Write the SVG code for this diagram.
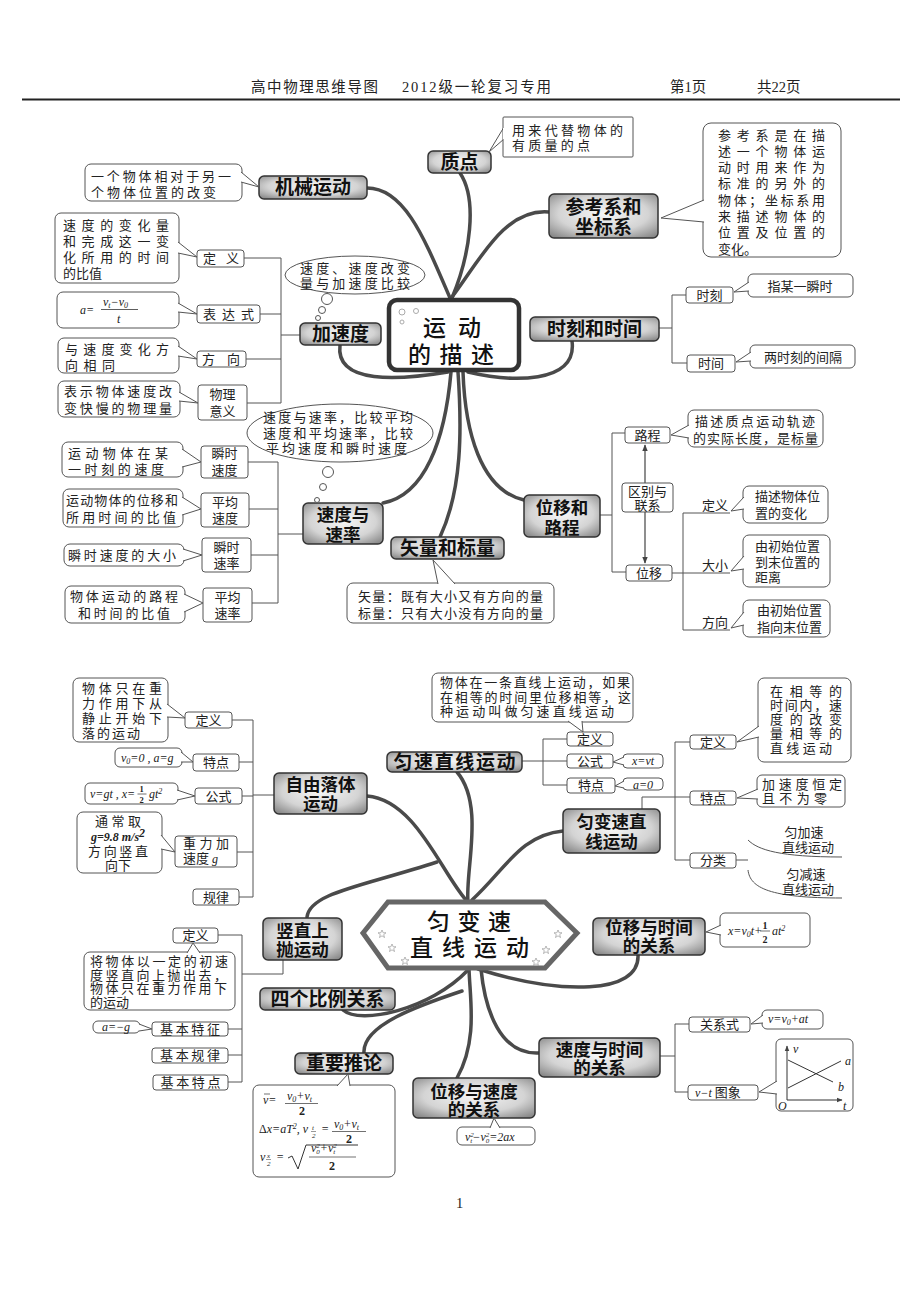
<svg xmlns="http://www.w3.org/2000/svg" xmlns:xlink="http://www.w3.org/1999/xlink" width="920" height="1300" viewBox="0 0 920 1300">
<defs>
<radialGradient id="ng" cx="0.5" cy="0.45" r="0.75">
<stop offset="0" stop-color="#f6f6f6"/>
<stop offset="0.55" stop-color="#d4d4d4"/>
<stop offset="1" stop-color="#777"/>
</radialGradient>
<marker id="ah" viewBox="0 0 10 10" refX="9" refY="5" markerWidth="6" markerHeight="6" orient="auto-start-reverse"><path d="M0,1 L10,5 L0,9 z" fill="#444"/></marker>
<path id="star" d="M0,-4 L1.2,-1.2 L4,-1.2 L1.7,0.6 L2.5,3.5 L0,1.8 L-2.5,3.5 L-1.7,0.6 L-4,-1.2 L-1.2,-1.2 Z" fill="none" stroke="#999" stroke-width="0.7"/>
</defs>
<style>
.n{fill:url(#ng);stroke:#333;stroke-width:1.5}
.nt{font-family:"Noto Sans CJK SC",sans-serif;font-weight:700;font-size:19px;fill:#111;text-anchor:middle}
.n2{font-size:17.5px}
.b{fill:#fff;stroke:#555;stroke-width:1}
.t{font-family:"Noto Sans CJK SC",sans-serif;font-size:13px;fill:#222}
.m{text-anchor:middle}
.c{fill:none;stroke:#4a4a4a;stroke-width:3.5;stroke-linecap:round}
.l{fill:none;stroke:#555;stroke-width:1}
.f{font-family:"Liberation Serif","Noto Sans CJK SC",serif;font-style:italic;font-size:12px;fill:#222}
.h{font-family:"Liberation Serif","Noto Sans CJK SC",serif;font-size:14.5px;fill:#222}
.hub{font-family:"Noto Sans CJK SC",sans-serif;font-weight:500;font-size:23px;fill:#111}
</style>
<rect width="920" height="1300" fill="#fff"/>

<g id="header">
<text class="h" x="251" y="92" textLength="127" lengthAdjust="spacing">高中物理思维导图</text>
<text class="h" x="402" y="92" textLength="149" lengthAdjust="spacing">2012级一轮复习专用</text>
<text class="h" x="670" y="92">第1页</text>
<text class="h" x="757" y="92">共22页</text>
<line x1="22" y1="99.5" x2="900" y2="99.5" stroke="#222" stroke-width="2"/>
</g>

<g id="connectors">
<path class="c" d="M460,173 C478,200 470,255 452,298"/>
<path class="c" d="M367,188 C405,188 425,240 450,298"/>
<path class="c" d="M549,212 C505,208 480,260 452,297"/>
<path class="c" d="M572,341 C578,385 510,382 468,372"/>
<path class="c" d="M340,345 C335,385 400,380 448,372"/>
<path class="c" d="M383,503 C425,495 445,440 451,372"/>
<path class="c" d="M440,537 C462,490 462,430 458,372"/>
<path class="c" d="M524,500 C480,490 465,430 463,372"/>

<path class="l" d="M244,258 H281 M260,314 H281 M246,359 H281 M247,403 H281 M281,258 V403 M281,335 H300"/>
<path class="l" d="M248,462 H278 M249,509 H278 M251,555 H278 M252,603 H278 M278,462 V603 M278,534 H303"/>
<path class="l" d="M659,328 H672 M672,295 V363 M672,295 H686 M672,363 H687"/>
<path class="l" d="M600,515 H612 M612,433 V572 M612,433 H625 M612,572 H626"/>
<line x1="645" y1="445" x2="645" y2="563" stroke="#444" stroke-width="1.2" marker-start="url(#ah)" marker-end="url(#ah)"/>
<path class="l" d="M672,573 H730 M683,513 V630 M683,513 H730 M683,630 H730"/>

<path class="c" d="M457,772 C485,805 465,870 468,902"/>
<path class="c" d="M367,796 C415,800 440,870 466,900"/>
<path class="c" d="M307,917 C310,893 360,887 437,862"/>
<path class="c" d="M563,831 C520,835 505,870 472,900"/>
<path class="c" d="M638,955 C640,995 560,995 478,969"/>
<path class="c" d="M343,1010 C360,1025 430,1010 468,970"/>
<path class="c" d="M364,1053 C362,1025 420,1005 462,991"/>
<path class="c" d="M457,1078 C478,1040 470,1000 469,969"/>
<path class="c" d="M539,1053 C500,1055 485,1010 481,969"/>

<path class="l" d="M232,720 H253 M239,762 H253 M242,796 H253 M237,852 H253 M239,897 H253 M253,720 V897 M253,795 H274"/>
<path class="l" d="M522,761 H567 M543,739 V785 M543,739 H567 M543,785 H567"/>
<path class="l" d="M642,809 V797 H690 M675,742 V860 M675,742 H690 M675,860 H690"/>
<path class="l" d="M736,860 H748 M748,840 C758,850 780,857 842,857 M748,870 C750,888 770,898 842,898"/>
<path class="l" d="M283,960 V974 H242 M242,935 V1082 M218,935 H242 M228,1029 H242 M228,1055 H242 M228,1082 H242"/>
<path class="l" d="M660,1056 H675 M675,1024 V1092 M675,1024 H689 M675,1092 H688"/>
</g>

<!-- ===== Section 1 ===== -->
<g id="hub1">
<rect x="389" y="300" width="130" height="70" rx="8" fill="#fff" stroke="#333" stroke-width="4.5"/>
<circle cx="402" cy="312" r="3" fill="none" stroke="#aaa"/>
<circle cx="416" cy="311" r="2.5" fill="none" stroke="#aaa"/>
<circle cx="402" cy="322" r="2" fill="none" stroke="#aaa"/>
<text class="hub"><tspan x="423" y="336" textLength="58" lengthAdjust="spacing">运动</tspan><tspan x="408" y="363" textLength="86" lengthAdjust="spacing">的描述</tspan></text>
</g>

<g id="n-zhidian">
<rect class="n" x="428" y="151" width="63" height="22" rx="5"/>
<text class="nt" x="459.5" y="168.5">质点</text>
<path class="b" d="M504,127 L489,152 L504,139"/>
<rect class="b" x="503" y="117" width="130" height="40" rx="1"/>
<path d="M504,128 L504,139" stroke="#fff" stroke-width="2"/>
<text class="t"><tspan x="512" y="134.5" textLength="111" lengthAdjust="spacing">用来代替物体的</tspan><tspan x="512" y="150" textLength="78" lengthAdjust="spacing">有质量的点</tspan></text>
</g>

<g id="n-jixie">
<rect class="n" x="259" y="176" width="108" height="23" rx="5"/>
<text class="nt" x="313" y="194">机械运动</text>
<rect class="b" x="85" y="164" width="157" height="37" rx="6"/>
<path class="b" d="M241,172 L259,187 L241,182"/>
<text class="t"><tspan x="91" y="181" textLength="140" lengthAdjust="spacing">一个物体相对于另一</tspan><tspan x="91" y="197" textLength="125" lengthAdjust="spacing">个物体位置的改变</tspan></text>
</g>

<g id="n-cankao">
<rect class="n" x="549" y="194" width="109" height="44" rx="5"/>
<text class="nt"><tspan x="603.5" y="213.5">参考系和</tspan><tspan x="603.5" y="234">坐标系</tspan></text>
<rect class="b" x="703" y="123" width="138" height="134" rx="8"/>
<path class="b" d="M704,200 L661,218 L704,222"/>
<text class="t"><tspan x="718" y="139.5" textLength="107" lengthAdjust="spacing">参考系是在描</tspan><tspan x="718" y="155.8" textLength="107" lengthAdjust="spacing">述一个物体运</tspan><tspan x="718" y="172.1" textLength="107" lengthAdjust="spacing">动时用来作为</tspan><tspan x="718" y="188.4" textLength="107" lengthAdjust="spacing">标准的另外的</tspan><tspan x="718" y="204.7" textLength="107" lengthAdjust="spacing">物体；坐标系用</tspan><tspan x="718" y="221" textLength="107" lengthAdjust="spacing">来描述物体的</tspan><tspan x="718" y="237.3" textLength="107" lengthAdjust="spacing">位置及位置的</tspan><tspan x="718" y="253.6">变化。</tspan></text>
</g>

<g id="n-shike">
<rect class="n" x="530" y="317" width="129" height="24" rx="5"/>
<text class="nt" x="594.5" y="335.5">时刻和时间</text>
<rect class="b" x="686" y="287" width="47" height="16" rx="3"/>
<text class="t m" x="709.5" y="299.5">时刻</text>
<rect class="b" x="687" y="355" width="48" height="17" rx="3"/>
<text class="t m" x="711" y="368">时间</text>
<rect class="b" x="748" y="274" width="105" height="23" rx="5"/>
<path class="b" d="M749,282 L734,292 L749,291"/>
<text class="t m" x="800" y="291">指某一瞬时</text>
<rect class="b" x="750" y="345" width="105" height="23" rx="5"/>
<path class="b" d="M751,352 L736,362 L751,361"/>
<text class="t m" x="803" y="362">两时刻的间隔</text>
</g>

<g id="n-jiasudu">
<rect class="n" x="300" y="323" width="81" height="22" rx="5"/>
<text class="nt" x="340.5" y="340.5">加速度</text>
<ellipse class="b" cx="355" cy="275" rx="70" ry="19" stroke="#666"/>
<text class="t"><tspan x="300" y="273" textLength="110" lengthAdjust="spacing">速度、速度改变</tspan><tspan x="300" y="288" textLength="110" lengthAdjust="spacing">量与加速度比较</tspan></text>
<circle cx="327" cy="299" r="5.5" class="b"/>
<circle cx="322" cy="310" r="3.5" class="b"/>
<circle cx="318" cy="318" r="2.5" class="b"/>
</g>
<g id="jsd-def">
<rect class="b" x="197" y="250" width="47" height="17" rx="3"/>
<text class="t" x="203" y="263" textLength="36" lengthAdjust="spacing">定义</text>
<rect class="b" x="55" y="213" width="124" height="70" rx="6"/>
<path class="b" d="M178,242 L197,257 L178,253"/>
<text class="t"><tspan x="63" y="229.5" textLength="106" lengthAdjust="spacing">速度的变化量</tspan><tspan x="63" y="246" textLength="106" lengthAdjust="spacing">和完成这一变</tspan><tspan x="63" y="262" textLength="106" lengthAdjust="spacing">化所用的时间</tspan><tspan x="63" y="278">的比值</tspan></text>
</g>
<g id="jsd-expr">
<rect class="b" x="197" y="305" width="63" height="18" rx="3"/>
<text class="t" x="203" y="319" textLength="51" lengthAdjust="spacing">表达式</text>
<rect class="b" x="57" y="292" width="122" height="36" rx="6"/>
<path class="b" d="M178,303 L197,314 L178,312"/>
<text class="f"><tspan x="80" y="314">a=</tspan><tspan x="103" y="306">v</tspan><tspan font-size="8" dy="2">t</tspan><tspan dy="-2">−v</tspan><tspan font-size="8" dy="2">0</tspan><tspan x="117" y="323">t</tspan></text>
<line x1="101" y1="309.5" x2="138" y2="309.5" stroke="#333" stroke-width="0.8"/>
</g>
<g id="jsd-dir">
<rect class="b" x="197" y="351" width="49" height="16" rx="3"/>
<text class="t" x="202" y="364" textLength="38" lengthAdjust="spacing">方向</text>
<rect class="b" x="58" y="338" width="121" height="35" rx="6"/>
<path class="b" d="M178,346 L197,359 L178,356"/>
<text class="t"><tspan x="65" y="353.5" textLength="104" lengthAdjust="spacing">与速度变化方</tspan><tspan x="65" y="369.5" textLength="50" lengthAdjust="spacing">向相同</tspan></text>
</g>
<g id="jsd-mean">
<rect class="b" x="198" y="385" width="49" height="35" rx="3"/>
<text class="t m"><tspan x="222.5" y="399">物理</tspan><tspan x="222.5" y="416">意义</tspan></text>
<rect class="b" x="58" y="381" width="122" height="36" rx="6"/>
<path class="b" d="M179,392 L198,403 L179,401"/>
<text class="t"><tspan x="64" y="396" textLength="108" lengthAdjust="spacing">表示物体速度改</tspan><tspan x="64" y="412.5" textLength="108" lengthAdjust="spacing">变快慢的物理量</tspan></text>
</g>

<g id="n-sudu">
<rect class="n" x="303" y="503" width="80" height="41" rx="5"/>
<text class="nt n2"><tspan x="343" y="520.5">速度与</tspan><tspan x="343" y="540.5">速率</tspan></text>
<ellipse class="b" cx="340" cy="433" rx="93" ry="29" stroke="#666"/>
<text class="t"><tspan x="263" y="422" textLength="150" lengthAdjust="spacing">速度与速率，比较平均</tspan><tspan x="263" y="437.5" textLength="150" lengthAdjust="spacing">速度和平均速率，比较</tspan><tspan x="266" y="452.5" textLength="141" lengthAdjust="spacing">平均速度和瞬时速度</tspan></text>
<circle cx="328" cy="472" r="5.5" class="b"/>
<circle cx="323" cy="487" r="3.5" class="b"/>
<circle cx="317" cy="500" r="2.5" class="b"/>
</g>
<g id="sd-1">
<rect class="b" x="201" y="446" width="47" height="32" rx="3"/>
<text class="t m"><tspan x="224.5" y="458">瞬时</tspan><tspan x="224.5" y="474.5">速度</tspan></text>
<rect class="b" x="62" y="442" width="121" height="35" rx="6"/>
<path class="b" d="M182,449 L201,462 L182,467"/>
<text class="t"><tspan x="68" y="457.5" textLength="100" lengthAdjust="spacing">运动物体在某</tspan><tspan x="68" y="474" textLength="96" lengthAdjust="spacing">一时刻的速度</tspan></text>
</g>
<g id="sd-2">
<rect class="b" x="201" y="493" width="48" height="34" rx="3"/>
<text class="t m"><tspan x="225" y="506.5">平均</tspan><tspan x="225" y="522.5">速度</tspan></text>
<rect class="b" x="63" y="489" width="120" height="38" rx="6"/>
<path class="b" d="M182,497 L201,509 L182,515"/>
<text class="t"><tspan x="66" y="505" textLength="112" lengthAdjust="spacing">运动物体的位移和</tspan><tspan x="66" y="522" textLength="110" lengthAdjust="spacing">所用时间的比值</tspan></text>
</g>
<g id="sd-3">
<rect class="b" x="202" y="538" width="49" height="34" rx="3"/>
<text class="t m"><tspan x="226.5" y="551.5">瞬时</tspan><tspan x="226.5" y="567.5">速率</tspan></text>
<rect class="b" x="64" y="544" width="120" height="22" rx="6"/>
<path class="b" d="M183,549 L202,555 L183,561"/>
<text class="t" x="68" y="560" textLength="108" lengthAdjust="spacing">瞬时速度的大小</text>
</g>
<g id="sd-4">
<rect class="b" x="203" y="588" width="49" height="34" rx="3"/>
<text class="t m"><tspan x="227.5" y="601.5">平均</tspan><tspan x="227.5" y="617.5">速率</tspan></text>
<rect class="b" x="65" y="586" width="120" height="37" rx="6"/>
<path class="b" d="M184,594 L203,603 L184,612"/>
<text class="t"><tspan x="70" y="601" textLength="108" lengthAdjust="spacing">物体运动的路程</tspan><tspan x="78" y="618" textLength="92" lengthAdjust="spacing">和时间的比值</tspan></text>
</g>

<g id="n-shiliang">
<rect class="n" x="391" y="537" width="113" height="22" rx="5"/>
<text class="nt" x="447.5" y="554.5">矢量和标量</text>
<rect class="b" x="347" y="583" width="207" height="40" rx="6"/>
<path class="b" d="M438,584 L433,560 L455,584"/>
<text class="t"><tspan x="358" y="600.5" textLength="185" lengthAdjust="spacing">矢量：既有大小又有方向的量</tspan><tspan x="358" y="617.5" textLength="185" lengthAdjust="spacing">标量：只有大小没有方向的量</tspan></text>
</g>

<g id="n-weiyi">
<rect class="n" x="524" y="495" width="76" height="42" rx="5"/>
<text class="nt n2"><tspan x="562" y="513.5">位移和</tspan><tspan x="562" y="533.5">路程</tspan></text>
</g>
<g id="wy-luc">
<rect class="b" x="625" y="427" width="45" height="16" rx="3"/>
<text class="t m" x="647.5" y="439.5">路程</text>
<rect class="b" x="688" y="410" width="135" height="37" rx="6"/>
<path class="b" d="M689,425 L671,435 L689,438"/>
<text class="t"><tspan x="695" y="425.5" textLength="120" lengthAdjust="spacing">描述质点运动轨迹</tspan><tspan x="693" y="442.5" textLength="125" lengthAdjust="spacing">的实际长度，是标量</tspan></text>
</g>
<g id="wy-rel">
<rect class="b" x="622" y="483" width="51" height="29" rx="3"/>
<text class="t m"><tspan x="647.5" y="495.5">区别与</tspan><tspan x="647.5" y="510">联系</tspan></text>
</g>
<g id="wy-wy">
<rect class="b" x="626" y="565" width="46" height="16" rx="3"/>
<text class="t m" x="649" y="577.5">位移</text>
<text class="t m" x="715" y="510">定义</text>
<text class="t m" x="715" y="570">大小</text>
<text class="t m" x="715" y="627">方向</text>
<rect class="b" x="743" y="486" width="85" height="37" rx="6"/>
<path class="b" d="M744,497 L731,511 L744,509"/>
<text class="t"><tspan x="755" y="501" textLength="65" lengthAdjust="spacing">描述物体位</tspan><tspan x="755" y="518" textLength="52" lengthAdjust="spacing">置的变化</tspan></text>
<rect class="b" x="743" y="535" width="87" height="52" rx="6"/>
<path class="b" d="M744,556 L731,571 L744,569"/>
<text class="t"><tspan x="755" y="550.5" textLength="65" lengthAdjust="spacing">由初始位置</tspan><tspan x="755" y="566.5" textLength="65" lengthAdjust="spacing">到末位置的</tspan><tspan x="755" y="582">距离</tspan></text>
<rect class="b" x="743" y="600" width="87" height="37" rx="6"/>
<path class="b" d="M744,612 L731,628 L744,625"/>
<text class="t"><tspan x="757" y="615" textLength="65" lengthAdjust="spacing">由初始位置</tspan><tspan x="757" y="631.5" textLength="65" lengthAdjust="spacing">指向末位置</tspan></text>
</g>

<!-- ===== Section 2 ===== -->
<g id="hub2">
<polygon points="363,933 388,902 545,902 577,933 545,968 388,968" fill="#fff" stroke="#666" stroke-width="5" stroke-linejoin="miter"/>
<use xlink:href="#star" x="382" y="934"/>
<use xlink:href="#star" x="392" y="948"/>
<use xlink:href="#star" x="405" y="961"/>
<use xlink:href="#star" x="558" y="934"/>
<use xlink:href="#star" x="546" y="950"/>
<use xlink:href="#star" x="536" y="962"/>
<text class="hub"><tspan x="427" y="930" textLength="84" lengthAdjust="spacing">匀变速</tspan><tspan x="410" y="956" textLength="119" lengthAdjust="spacing">直线运动</tspan></text>
</g>

<g id="n-yunsu">
<rect class="n" x="387" y="752" width="135" height="20" rx="5"/>
<text class="nt" x="393.5" y="768.5" style="text-anchor:start" textLength="122" lengthAdjust="spacing">匀速直线运动</text>
<rect class="b" x="567" y="732" width="46" height="14" rx="3"/>
<text class="t m" x="590" y="743.5">定义</text>
<rect class="b" x="567" y="754" width="46" height="14" rx="3"/>
<text class="t m" x="590" y="765.5">公式</text>
<rect class="b" x="567" y="778" width="48" height="15" rx="3"/>
<text class="t m" x="591" y="789.5">特点</text>
<rect class="b" x="623" y="754" width="40" height="14" rx="4"/>
<path class="b" d="M624,757 L613,762 L624,765"/>
<text class="f m" x="643" y="765">x=vt</text>
<rect class="b" x="623" y="778" width="40" height="12" rx="4"/>
<path class="b" d="M624,781 L615,786 L624,788"/>
<text class="f m" x="643" y="788.5">a=0</text>
<rect class="b" x="432" y="673" width="201" height="49" rx="6"/>
<path class="b" d="M568,721 L583,732 L582,721"/>
<text class="t" font-size="11.5"><tspan x="440" y="687" textLength="190" lengthAdjust="spacing">物体在一条直线上运动，如果</tspan><tspan x="440" y="701.5" textLength="191" lengthAdjust="spacing">在相等的时间里位移相等，这</tspan><tspan x="440" y="716" textLength="174" lengthAdjust="spacing">种运动叫做匀速直线运动</tspan></text>
</g>

<g id="n-ziyou">
<rect class="n" x="274" y="773" width="93" height="41" rx="5"/>
<text class="nt n2"><tspan x="320.5" y="791">自由落体</tspan><tspan x="320.5" y="810">运动</tspan></text>
</g>
<g id="zy-def">
<rect class="b" x="185" y="712" width="47" height="16" rx="3"/>
<text class="t m" x="208.5" y="724.5">定义</text>
<rect class="b" x="73" y="678" width="95" height="64" rx="6"/>
<path class="b" d="M167,704 L185,718 L167,717"/>
<text class="t"><tspan x="82" y="692.5" textLength="80" lengthAdjust="spacing">物体只在重</tspan><tspan x="82" y="707.5" textLength="80" lengthAdjust="spacing">力作用下从</tspan><tspan x="82" y="722.5" textLength="80" lengthAdjust="spacing">静止开始下</tspan><tspan x="82" y="737.5" textLength="58" lengthAdjust="spacing">落的运动</tspan></text>
</g>
<g id="zy-tedian">
<rect class="b" x="193" y="754" width="46" height="17" rx="3"/>
<text class="t m" x="216" y="767">特点</text>
<rect class="b" x="115" y="748" width="67" height="19" rx="5"/>
<path class="b" d="M181,752 L193,762 L181,762"/>
<text class="f" x="121" y="762">v<tspan font-size="8" dy="2">0</tspan><tspan dy="-2">=0 , a=g</tspan></text>
</g>
<g id="zy-gongshi">
<rect class="b" x="195" y="788" width="47" height="16" rx="3"/>
<text class="t m" x="218.5" y="800.5">公式</text>
<rect class="b" x="85" y="783" width="93" height="21" rx="5"/>
<path class="b" d="M177,790 L195,796 L177,800"/>
<text class="f"><tspan x="90" y="797.5">v=gt , x=</tspan><tspan x="139.5" y="791.5" font-size="8.5" font-style="normal" font-weight="bold">1</tspan><tspan x="139.5" y="802.5" font-size="8.5" font-style="normal" font-weight="bold">2</tspan><tspan x="149" y="797.5">gt</tspan><tspan font-size="8" dy="-4">2</tspan></text>
<line x1="137.5" y1="794" x2="146.5" y2="794" stroke="#333" stroke-width="0.7"/>
</g>
<g id="zy-g">
<rect class="b" x="175" y="836" width="62" height="31" rx="3"/>
<text class="t"><tspan x="183" y="848" textLength="46" lengthAdjust="spacing">重力加</tspan><tspan x="183" y="863">速度 </tspan><tspan class="f" font-size="13">g</tspan></text>
<rect class="b" x="77" y="812" width="85" height="61" rx="6"/>
<path class="b" d="M161,835 L175,852 L161,849"/>
<text class="t m"><tspan x="118" y="826" textLength="46" lengthAdjust="spacing">通常取</tspan><tspan x="118" y="841" class="f" font-weight="bold" font-size="11.5">g=9.8 m/s</tspan><tspan class="f" font-weight="bold" font-size="7.5" dy="-4">2</tspan><tspan x="118" y="856" textLength="60" lengthAdjust="spacing">方向竖直</tspan><tspan x="118" y="870">向下</tspan></text>
</g>
<g id="zy-guilv">
<rect class="b" x="193" y="889" width="46" height="16" rx="3"/>
<text class="t m" x="216" y="901.5">规律</text>
</g>

<g id="n-yunbian">
<rect class="n" x="563" y="809" width="97" height="44" rx="5"/>
<text class="nt n2"><tspan x="611.5" y="828">匀变速直</tspan><tspan x="611.5" y="848">线运动</tspan></text>
<rect class="b" x="690" y="735" width="46" height="14" rx="3"/>
<text class="t m" x="713" y="746.5">定义</text>
<rect class="b" x="690" y="791" width="46" height="14" rx="3"/>
<text class="t m" x="713" y="802.5">特点</text>
<rect class="b" x="690" y="853" width="46" height="15" rx="3"/>
<text class="t m" x="713" y="864.5">分类</text>
<rect class="b" x="758" y="678" width="93" height="84" rx="6"/>
<path class="b" d="M759,726 L737,742 L759,737"/>
<text class="t"><tspan x="770" y="695.5" textLength="72" lengthAdjust="spacing">在相等的</tspan><tspan x="770" y="709.8" textLength="72" lengthAdjust="spacing">时间内，速</tspan><tspan x="770" y="724.1" textLength="72" lengthAdjust="spacing">度的改变</tspan><tspan x="770" y="738.4" textLength="72" lengthAdjust="spacing">量相等的</tspan><tspan x="770" y="752.7" textLength="62" lengthAdjust="spacing">直线运动</tspan></text>
<rect class="b" x="757" y="775" width="88" height="32" rx="5"/>
<path class="b" d="M758,789 L737,798 L758,799"/>
<text class="t"><tspan x="762" y="789" textLength="80" lengthAdjust="spacing">加速度恒定</tspan><tspan x="762" y="803" textLength="65" lengthAdjust="spacing">且不为零</tspan></text>
<text class="t m"><tspan x="804" y="837">匀加速</tspan><tspan x="808" y="852">直线运动</tspan></text>
<text class="t m"><tspan x="806" y="879">匀减速</tspan><tspan x="808" y="894">直线运动</tspan></text>
</g>

<g id="n-shuzhi">
<rect class="n" x="263" y="918" width="79" height="42" rx="5"/>
<text class="nt n2"><tspan x="302.5" y="936.5">竖直上</tspan><tspan x="302.5" y="955.5">抛运动</tspan></text>
<rect class="b" x="173" y="928" width="45" height="15" rx="3"/>
<text class="t m" x="195.5" y="940">定义</text>
<rect class="b" x="84" y="952" width="151" height="58" rx="6"/>
<path class="b" d="M187,953 L193,943 L200,953"/>
<text class="t" font-size="12.5"><tspan x="90" y="966" textLength="138" lengthAdjust="spacing">将物体以一定的初速</tspan><tspan x="90" y="979.5" textLength="137" lengthAdjust="spacing">度竖直向上抛出去，</tspan><tspan x="90" y="993" textLength="137" lengthAdjust="spacing">物体只在重力作用下</tspan><tspan x="90" y="1006.5">的运动</tspan></text>
<rect class="b" x="152" y="1022" width="76" height="14" rx="3"/>
<text class="t m" x="190" y="1033.5" textLength="60" lengthAdjust="spacing">基本特征</text>
<rect class="b" x="93" y="1021" width="47" height="12" rx="5"/>
<path class="b" d="M139,1024 L152,1029 L139,1031"/>
<text class="f m" x="116" y="1031">a=−g</text>
<rect class="b" x="152" y="1048" width="76" height="15" rx="3"/>
<text class="t m" x="190" y="1059.5" textLength="60" lengthAdjust="spacing">基本规律</text>
<rect class="b" x="153" y="1075" width="75" height="15" rx="3"/>
<text class="t m" x="190.5" y="1086.5" textLength="60" lengthAdjust="spacing">基本特点</text>
</g>

<g id="n-weiyishijian">
<rect class="n" x="593" y="918" width="112" height="37" rx="5"/>
<text class="nt n2"><tspan x="649" y="934">位移与时间</tspan><tspan x="649" y="952">的关系</tspan></text>
<rect class="b" x="720" y="913" width="90" height="34" rx="5"/>
<path class="b" d="M721,925 L706,932 L721,935"/>
<text class="f"><tspan x="728" y="935">x=v</tspan><tspan font-size="8" dy="2">0</tspan><tspan dy="-2">t+</tspan><tspan x="762.5" y="928.5" font-size="10" font-style="normal" font-weight="bold">1</tspan><tspan x="762.5" y="942.5" font-size="10" font-style="normal" font-weight="bold">2</tspan><tspan x="772" y="935">at</tspan><tspan font-size="8" dy="-4">2</tspan></text>
<line x1="760" y1="931" x2="770" y2="931" stroke="#333" stroke-width="0.7"/>
</g>

<g id="n-sige">
<rect class="n" x="260" y="988" width="135" height="22" rx="5"/>
<text class="nt" x="327.5" y="1005.5">四个比例关系</text>
</g>

<g id="n-tuilun">
<rect class="n" x="295" y="1053" width="98" height="21" rx="5"/>
<text class="nt" x="344" y="1070">重要推论</text>
<rect class="b" x="253" y="1085" width="142" height="92" rx="6"/>
<path class="b" d="M337,1086 L348,1074 L350,1086"/>
<text class="f" font-size="12.5"><tspan x="263" y="1104">v=</tspan><tspan x="287" y="1100">v</tspan><tspan font-size="8" dy="2">0</tspan><tspan dy="-2">+v</tspan><tspan font-size="8" dy="2">t</tspan><tspan x="299" y="1115" font-style="normal" font-weight="bold">2</tspan></text>
<line x1="264" y1="1094" x2="270" y2="1094" stroke="#333" stroke-width="0.7"/>
<line x1="285" y1="1103.5" x2="318" y2="1103.5" stroke="#333" stroke-width="0.7"/>
<text class="f" font-size="12.5"><tspan x="259" y="1133" font-style="normal">Δ</tspan><tspan>x=aT</tspan><tspan font-size="8" dy="-4">2</tspan><tspan dy="4">, v</tspan><tspan x="312" y="1130" font-size="7">t</tspan><tspan x="312" y="1138" font-size="7">2</tspan><tspan x="321" y="1133">=</tspan><tspan x="334" y="1128">v</tspan><tspan font-size="8" dy="2">0</tspan><tspan dy="-2">+v</tspan><tspan font-size="8" dy="2">t</tspan><tspan x="346" y="1143" font-style="normal" font-weight="bold">2</tspan></text>
<line x1="311" y1="1131.5" x2="316" y2="1131.5" stroke="#333" stroke-width="0.5"/>
<line x1="332" y1="1131.5" x2="366" y2="1131.5" stroke="#333" stroke-width="0.7"/>
<text class="f" font-size="12.5"><tspan x="260" y="1161">v</tspan><tspan x="267" y="1158" font-size="7">x</tspan><tspan x="267" y="1166" font-size="7">2</tspan><tspan x="276" y="1161">=</tspan><tspan x="311" y="1152">v</tspan><tspan font-size="7" dy="-4">2</tspan><tspan font-size="7" dx="-3.5" dy="6">0</tspan><tspan dy="-2">+v</tspan><tspan font-size="7" dy="-4">2</tspan><tspan font-size="7" dx="-3.5" dy="6">t</tspan><tspan x="329" y="1170" font-style="normal" font-weight="bold">2</tspan></text>
<line x1="266" y1="1159.5" x2="271" y2="1159.5" stroke="#333" stroke-width="0.5"/>
<path d="M288,1158 L292,1156 L298,1169 L306,1145 L358,1145" fill="none" stroke="#333" stroke-width="1"/>
<line x1="309" y1="1157" x2="356" y2="1157" stroke="#333" stroke-width="0.7"/>
</g>

<g id="n-suduShijian">
<rect class="n" x="539" y="1038" width="121" height="39" rx="5"/>
<text class="nt n2"><tspan x="599.5" y="1056">速度与时间</tspan><tspan x="599.5" y="1074">的关系</tspan></text>
<rect class="b" x="689" y="1017" width="61" height="15" rx="3"/>
<text class="t m" x="719.5" y="1028.5">关系式</text>
<rect class="b" x="762" y="1010" width="61" height="19" rx="5"/>
<path class="b" d="M763,1015 L751,1024 L763,1023"/>
<text class="f" x="768" y="1023">v=v<tspan font-size="8" dy="2">0</tspan><tspan dy="-2">+at</tspan></text>
<rect class="b" x="688" y="1085" width="70" height="15" rx="3"/>
<text class="t" x="695" y="1096.5"><tspan class="f">v−t</tspan> 图象</text>
<rect class="b" x="776" y="1039" width="77" height="72" rx="5"/>
<path class="b" d="M777,1081 L759,1092 L777,1094"/>
<line x1="787" y1="1100" x2="787" y2="1046" stroke="#333" stroke-width="1" marker-end="url(#ah)"/>
<line x1="787" y1="1100" x2="842" y2="1100" stroke="#333" stroke-width="1" marker-end="url(#ah)"/>
<line x1="788" y1="1088" x2="841" y2="1061" stroke="#333" stroke-width="1"/>
<line x1="788" y1="1060" x2="833" y2="1082" stroke="#333" stroke-width="1"/>
<text class="f" x="793" y="1053" font-size="10">v</text>
<text class="f" x="845" y="1065" font-size="11">a</text>
<text class="f" x="838" y="1091" font-size="11">b</text>
<text class="f" x="778" y="1110" font-size="11">O</text>
<text class="f" x="843" y="1110" font-size="11">t</text>
</g>

<g id="n-weiyisudu">
<rect class="n" x="413" y="1078" width="122" height="40" rx="5"/>
<text class="nt n2"><tspan x="474" y="1097.5">位移与速度</tspan><tspan x="474" y="1116">的关系</tspan></text>
<rect class="b" x="457" y="1127" width="78" height="18" rx="5"/>
<path class="b" d="M490,1128 L494,1118 L500,1128"/>
<text class="f" x="465" y="1141">v<tspan font-size="7" dy="-4">2</tspan><tspan font-size="7" dx="-3.5" dy="6">t</tspan><tspan dy="-2">−v</tspan><tspan font-size="7" dy="-4">2</tspan><tspan font-size="7" dx="-3.5" dy="6">0</tspan><tspan dy="-2">=2ax</tspan></text>
</g>

<text class="h" x="456" y="1208">1</text>
</svg>
